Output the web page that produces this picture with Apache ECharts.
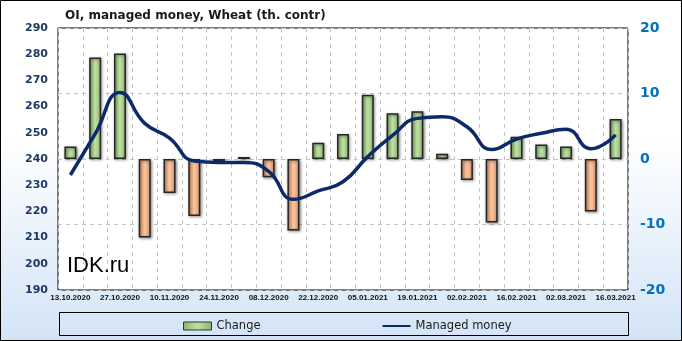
<!DOCTYPE html>
<html>
<head>
<meta charset="utf-8">
<script src="https://cdn.jsdelivr.net/npm/echarts@6/dist/echarts.min.js"></script>
<style>html,body{margin:0;padding:0;}#c{width:682px;height:341px;}</style>
</head>
<body>
<div id="c"></div>
<script>
const categories = ['13.10.2020','20.10.2020','27.10.2020','03.11.2020','10.11.2020','17.11.2020','24.11.2020','01.12.2020','08.12.2020','15.12.2020','22.12.2020','29.12.2020','05.01.2021','12.01.2021','19.01.2021','26.01.2021','02.02.2021','09.02.2021','16.02.2021','23.02.2021','02.03.2021','09.03.2021','16.03.2021'];
const changeValues = [1.9, 15.5, 16.1, -12.0, -5.2, -8.7, -0.3, 0.3, -2.8, -10.9, 2.5, 3.8, 9.8, 7.0, 7.3, 0.8, -3.2, -9.7, 3.4, 2.2, 1.9, -8.0, 6.1];
const managedMoney = [233.9, 249.6, 265.4, 253.6, 248.0, 239.2, 238.7, 238.7, 235.3, 224.6, 227.8, 231.3, 240.9, 249.0, 255.5, 256.1, 252.3, 243.6, 247.6, 249.8, 251.4, 243.9, 249.2];
const leftTicks = {min: 190, max: 290, interval: 10};
const rightTicks = {min: -20, max: 20, interval: 10};

function grad(edge, mid) {
  return {type:'linear', x:0, y:0, x2:1, y2:0, colorStops:[
    {offset:0, color:edge},{offset:0.5, color:mid},{offset:1, color:edge}]};
}
const greenFill = grad('#8cb56e', '#bfe0a3');
const orangeFill = grad('#de9668', '#fac59f');

const chart = echarts.init(document.getElementById('c'));
chart.setOption({
  animation: false,
  backgroundColor: {type:'linear', x:0, y:0, x2:0, y2:1, colorStops:[
    {offset:0, color:'#ffffff'},{offset:0.4, color:'#ffffff'},{offset:1, color:'#d3e4f7'}]},
  title: {
    text: 'OI, managed money, Wheat (th. contr)',
    left: 60, top: 5,
    textStyle: {fontFamily: 'DejaVu Sans', fontWeight: 'bold', fontSize: 12, color: '#1a1a1a'}
  },
  grid: {left: 58, right: 54, top: 28, bottom: 51, show: true, backgroundColor: '#ffffff', borderColor: '#000', borderWidth: 1},
  legend: {
    left: 178, top: 315, itemGap: 121, itemWidth: 28, itemHeight: 8,
    textStyle: {fontFamily: 'DejaVu Sans', fontSize: 11.5, color: '#1a1a1a'},
    data: [
      {name: 'Change', icon: 'rect', itemStyle: {color: greenFill, borderColor: '#333', borderWidth: 1}},
      {name: 'Managed money', itemStyle: {opacity: 0}}
    ]
  },
  xAxis: {
    type: 'category', data: categories, boundaryGap: true,
    axisLine: {show: false}, axisTick: {show: false},
    axisLabel: {interval: 1, margin: 4, fontFamily: 'Liberation Sans', fontWeight: 'bold', fontSize: 8, color: '#111'},
    splitLine: {show: true, interval: 0, lineStyle: {type: [4,4], color: '#c4c4c4', width: 1}}
  },
  yAxis: [
    {type: 'value', min: leftTicks.min, max: leftTicks.max, interval: leftTicks.interval,
     axisLine: {show: false}, axisTick: {show: false}, splitLine: {show: false},
     axisLabel: {margin: 10, fontFamily: 'DejaVu Sans', fontWeight: 'bold', fontSize: 11, color: '#1f3864'}},
    {type: 'value', min: rightTicks.min, max: rightTicks.max, interval: rightTicks.interval, position: 'right',
     axisLine: {show: false}, axisTick: {show: false},
     splitLine: {show: true, lineStyle: {type: [4,4], color: '#c4c4c4', width: 1}},
     axisLabel: {margin: 12, fontFamily: 'DejaVu Sans', fontWeight: 'bold', fontSize: 14, color: '#0070c0'}}
  ],
  series: [
    {name: 'Change', type: 'bar', yAxisIndex: 1, barWidth: 12,
     itemStyle: {color: greenFill, borderColor: '#262626', borderWidth: 1.5,
       shadowBlur: 3, shadowColor: 'rgba(0,0,0,0.45)', shadowOffsetX: 1, shadowOffsetY: 1},
     data: changeValues.map(v => ({value: v, itemStyle: {color: v >= 0 ? greenFill : orangeFill}}))},
    {name: 'Managed money', type: 'line', yAxisIndex: 0, smooth: 0.5, symbol: 'none', z: 5,
     lineStyle: {color: '#0c2a6a', width: 3.5}, itemStyle: {color: '#0c2a6a'},
     data: managedMoney}
  ],
  graphic: [
    {type: 'rect', shape: {x: 59.5, y: 312.5, width: 569, height: 23}, style: {fill: 'none', stroke: '#000', lineWidth: 1}, z: -1},
    {type: 'rect', shape: {x: 0.5, y: 0.5, width: 681, height: 340}, style: {fill: 'none', stroke: '#000', lineWidth: 1}},
    {type: 'text', left: 67, top: 255, z: 10, style: {text: 'IDK.ru', font: '22px "Liberation Sans"', fill: '#000'}}
  ]
});
</script>
</body>
</html>
